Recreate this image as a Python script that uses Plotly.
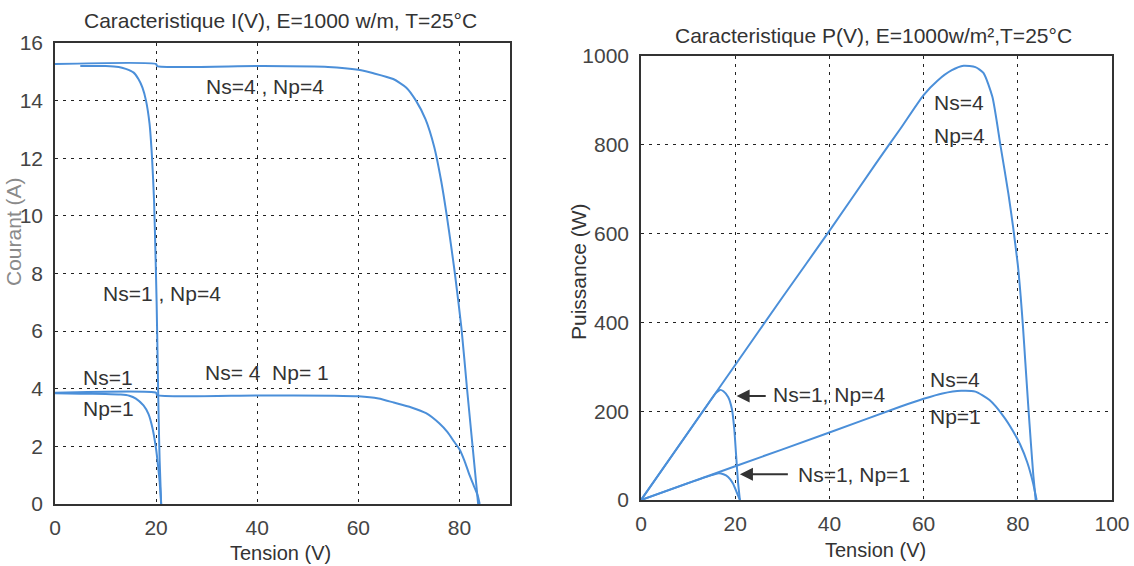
import plotly.graph_objects as go

# ---------------- I(V) data (left) ----------------
iv_v_s1p1 = [0, 5, 10, 13, 14.7, 16, 17.5, 18.5, 19.3, 20.0, 20.4, 20.7, 21.0]
iv_i_s1p1 = [3.84, 3.83, 3.82, 3.8, 3.76, 3.66, 3.42, 3.12, 2.62, 1.9, 1.3, 0.77, 0]

iv_v_s4p1 = [0, 20, 20.2, 40, 55, 60, 64, 67, 70.5, 73.4, 76, 77.6, 79, 80, 81, 81.8, 82.8, 83.6, 84]
iv_i_s4p1 = [3.86, 3.86, 3.78, 3.77, 3.76, 3.74, 3.66, 3.52, 3.35, 3.15, 2.8, 2.5, 2.15, 1.9, 1.5, 1.1, 0.65, 0.3, 0]

iv_v_s1p4 = [5, 10, 12.6, 14, 15.5, 16.5, 17.3, 18, 18.7, 19.2, 19.6, 19.9, 20.1, 20.3, 20.5, 20.7, 21]
iv_i_s1p4 = [15.2, 15.2, 15.17, 15.1, 14.98, 14.75, 14.45, 14.0, 13.2, 12.0, 10.5, 8.5, 7.0, 5.0, 3.0, 1.5, 0]

iv_v_s4p4 = [0, 20, 20.2, 40, 54, 60, 63, 66.9, 69.5, 71.4, 73.3, 75.0, 76.4, 77.5, 78.4, 79.1, 80.4, 81.5, 82.6, 83.7]
iv_i_s4p4 = [15.27, 15.27, 15.2, 15.2, 15.17, 15.07, 14.95, 14.75, 14.45, 14.0, 13.35, 12.4, 11.2, 10.0, 8.9, 8.0, 6.1, 4.0, 2.0, 0]

# ---------------- P(V) data (right) ----------------
pv_v_s1p1 = [0, 10, 15, 16.5, 17.5, 18.5, 19.5, 20.3, 21]
pv_p_s1p1 = [0, 38, 56, 60, 58, 52, 38, 18, 0]

pv_v_s1p4 = [0, 10, 15, 16, 16.8, 17.5, 18.5, 19.3, 19.8, 20.2, 20.6, 21]
pv_p_s1p4 = [0, 152, 228, 242, 248, 245, 232, 205, 160, 100, 40, 0]

pv_v_s4p1 = [0, 20, 40, 55, 60, 64, 68, 71, 74, 77, 79, 80.5, 82, 83.2, 84]
pv_p_s4p1 = [0, 76, 152, 210, 228, 240, 246, 244, 225, 188, 155, 125, 85, 40, 0]

pv_v_s4p4 = [0, 10, 20, 30, 40, 50, 55, 60, 63, 66, 68.5, 71, 72.7, 74.6, 76.3, 78, 79, 80, 80.6, 81.1, 81.6, 82.2, 82.8, 83.3, 83.8]
pv_p_s4p4 = [0, 152, 304, 456, 606, 760, 835, 912, 945, 968, 978, 975, 962, 908, 800, 690, 615, 530, 460, 390, 310, 215, 125, 55, 0]

# ---------------- ticks ----------------
iv_xticks = [0, 20, 40, 60, 80]
iv_yticks = [0, 2, 4, 6, 8, 10, 12, 14, 16]
pv_xticks = [0, 20, 40, 60, 80, 100]
pv_yticks = [0, 200, 400, 600, 800, 1000]

FONT = "Liberation Sans Narrow, Arial Narrow, Liberation Sans, Arial, sans-serif"
LINE = "#4b8fd9"
TXT = "#333333"

fig = go.Figure()
for xs, ys in [(iv_v_s1p1, iv_i_s1p1), (iv_v_s4p1, iv_i_s4p1), (iv_v_s1p4, iv_i_s1p4), (iv_v_s4p4, iv_i_s4p4)]:
    fig.add_trace(go.Scatter(x=xs, y=ys, mode="lines", line=dict(color=LINE, width=2, shape="spline", smoothing=0.6),
                             xaxis="x", yaxis="y", showlegend=False, hoverinfo="skip"))
for xs, ys in [(pv_v_s1p1, pv_p_s1p1), (pv_v_s1p4, pv_p_s1p4), (pv_v_s4p1, pv_p_s4p1), (pv_v_s4p4, pv_p_s4p4)]:
    fig.add_trace(go.Scatter(x=xs, y=ys, mode="lines", line=dict(color=LINE, width=2, shape="spline", smoothing=0.6),
                             xaxis="x2", yaxis="y2", showlegend=False, hoverinfo="skip"))

W, H = 1134, 566
def px(x0, x1):
    return [x0 / W, x1 / W]
def py(ytop, ybot):
    return [(H - ybot) / H, (H - ytop) / H]

axis_common = dict(showline=True, mirror=True, linecolor="#333", linewidth=1.5,
                   showgrid=True, gridcolor="#222", gridwidth=1.2, griddash="3px,5px",
                   zeroline=False, ticks="", ticklen=0, automargin=False,
                   tickfont=dict(family=FONT, size=21, color="#444"))

fig.update_layout(
    template="none",
    width=W, height=H, margin=dict(l=0, r=0, t=0, b=0, pad=0, autoexpand=False),
    paper_bgcolor="white", plot_bgcolor="white",
    xaxis=dict(domain=px(55, 510), range=[0, 90], tickvals=iv_xticks, ticklabelstandoff=4, **axis_common),
    yaxis=dict(domain=py(43, 504), range=[0, 16], tickvals=iv_yticks, ticklabelstandoff=6, **axis_common),
    xaxis2=dict(domain=px(641, 1112), range=[0, 100], tickvals=pv_xticks, anchor="y2", ticklabelstandoff=4, **axis_common),
    yaxis2=dict(domain=py(56, 500), range=[0, 1000], tickvals=pv_yticks, anchor="x2", ticklabelstandoff=6, **axis_common),
)

ann = []
def txt(text, x, y, xref="paper", yref="paper", size=21, color=TXT, xanchor="center", angle=0):
    ann.append(dict(text=text, x=x, y=y, xref=xref, yref=yref, showarrow=False,
                    font=dict(family=FONT, size=size, color=color), xanchor=xanchor, yanchor="middle",
                    textangle=angle))

# titles
txt("Caracteristique I(V), E=1000 w/m, T=25°C", 280 / W, (H - 20) / H, size=21)
txt("Caracteristique P(V), E=1000w/m²,T=25°C", 873 / W, (H - 35) / H, size=21)
# axis titles
txt("Tension (V)", 280 / W, (H - 553) / H, size=20)
txt("Tension (V)", 875 / W, (H - 550) / H, size=20)
txt("Courant (A)", 13 / W, (H - 232) / H, size=21, color="#8a8a8a", angle=-90)
txt("Puissance (W)", 578 / W, (H - 272) / H, size=21, angle=-90)

# left annotations
txt("Ns=4 , Np=4", 29.4, 14.5, "x", "y", xanchor="left")
txt("Ns=1 , Np=4", 9.0, 7.3, "x", "y", xanchor="left")
txt("Ns=1", 5.2, 4.4, "x", "y", xanchor="left")
txt("Np=1", 5.2, 3.3, "x", "y", xanchor="left")
txt("Ns= 4  Np= 1", 29.2, 4.56, "x", "y", xanchor="left")

# right annotations
txt("Ns=4", 61.7, 896, "x2", "y2", xanchor="left")
txt("Np=4", 61.7, 822, "x2", "y2", xanchor="left")
txt("Ns=4", 61.0, 271, "x2", "y2", xanchor="left")
txt("Np=1", 61.0, 188, "x2", "y2", xanchor="left")
txt("Ns=1, Np=4", 27.6, 237, "x2", "y2", xanchor="left")
txt("Ns=1, Np=1", 33.0, 58, "x2", "y2", xanchor="left")

for (hx, hy, tx) in [(20.3, 234, 26.8), (21.0, 58, 31.5)]:
    ann.append(dict(x=hx, y=hy, ax=tx, ay=hy, xref="x2", yref="y2", axref="x2", ayref="y2",
                    text="", showarrow=True, arrowhead=2, arrowsize=1.3, arrowwidth=2, arrowcolor="#333"))

fig.update_layout(annotations=ann)
fig.write_html("out.html")
